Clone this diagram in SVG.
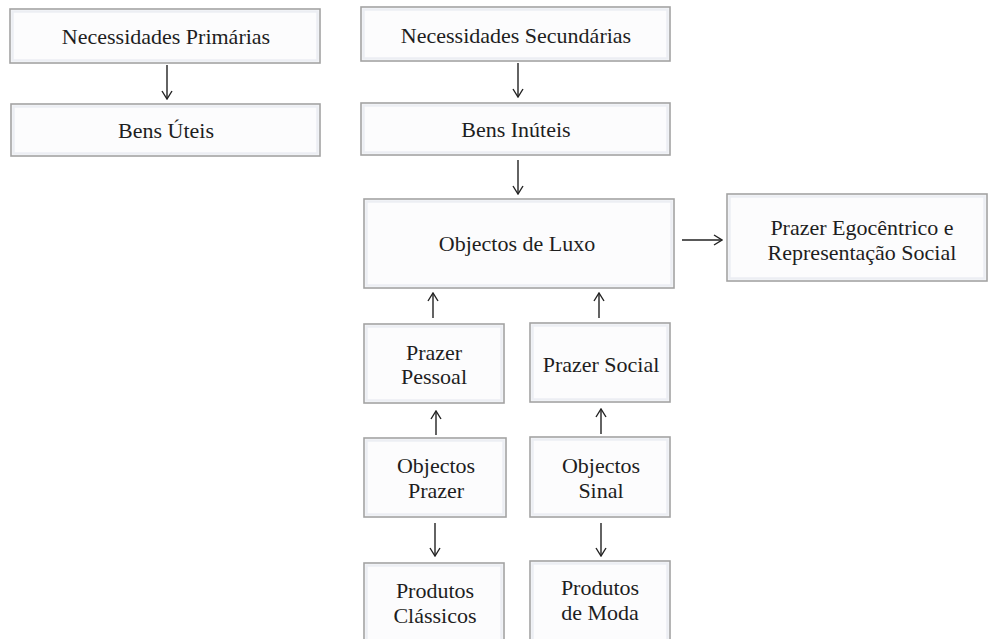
<svg xmlns="http://www.w3.org/2000/svg" width="989" height="639" viewBox="0 0 989 639">
  <style>
    .box { fill: #fcfcfd; stroke: #a3a3a3; stroke-width: 1.6; }
    .bevel { fill: none; stroke: #eceef3; stroke-width: 2.5; }
    .label { font-family: "Liberation Serif", "Times New Roman", serif; font-size: 22px; fill: #1e1e1e; text-anchor: middle; }
    .conn { stroke: #222; stroke-width: 1.4; fill: none; marker-end: url(#head); }
  </style>
  <defs>
    <marker id="head" viewBox="0 0 10 12" refX="9" refY="6" markerWidth="10" markerHeight="12" markerUnits="userSpaceOnUse" orient="auto">
      <path d="M1,1 L9,6 L1,11" fill="none" stroke="#222" stroke-width="1.4"/>
    </marker>
  </defs>

  <rect width="989" height="639" fill="#ffffff"/>

  <g id="necessidades-primarias">
    <rect class="box" x="10" y="9" width="310" height="54"/>
    <rect class="bevel" x="12.5" y="11.5" width="305" height="49"/>
    <text class="label" x="166" y="44">Necessidades Primárias</text>
  </g>

  <g id="bens-uteis">
    <rect class="box" x="11" y="104" width="309" height="52"/>
    <rect class="bevel" x="13.5" y="106.5" width="304" height="47"/>
    <text class="label" x="166" y="138">Bens Úteis</text>
  </g>

  <g id="necessidades-secundarias">
    <rect class="box" x="361" y="7" width="309" height="54"/>
    <rect class="bevel" x="363.5" y="9.5" width="304" height="49"/>
    <text class="label" x="516" y="43">Necessidades Secundárias</text>
  </g>

  <g id="bens-inuteis">
    <rect class="box" x="361" y="103" width="309" height="52"/>
    <rect class="bevel" x="363.5" y="105.5" width="304" height="47"/>
    <text class="label" x="516" y="137">Bens Inúteis</text>
  </g>

  <g id="objectos-de-luxo">
    <rect class="box" x="364" y="199" width="310" height="89"/>
    <rect class="bevel" x="366.5" y="201.5" width="305" height="84"/>
    <text class="label" x="517" y="251">Objectos de Luxo</text>
  </g>

  <g id="prazer-egocentrico">
    <rect class="box" x="727" y="194" width="260" height="87"/>
    <rect class="bevel" x="729.5" y="196.5" width="255" height="82"/>
    <text class="label" x="862" y="235">Prazer Egocêntrico e</text>
    <text class="label" x="862" y="260">Representação Social</text>
  </g>

  <g id="prazer-pessoal">
    <rect class="box" x="364" y="324" width="140" height="79"/>
    <rect class="bevel" x="366.5" y="326.5" width="135" height="74"/>
    <text class="label" x="434" y="360">Prazer</text>
    <text class="label" x="434" y="384">Pessoal</text>
  </g>

  <g id="prazer-social">
    <rect class="box" x="530" y="323" width="140" height="79"/>
    <rect class="bevel" x="532.5" y="325.5" width="135" height="74"/>
    <text class="label" x="601" y="372">Prazer Social</text>
  </g>

  <g id="objectos-prazer">
    <rect class="box" x="364" y="438" width="142" height="79"/>
    <rect class="bevel" x="366.5" y="440.5" width="137" height="74"/>
    <text class="label" x="436" y="473">Objectos</text>
    <text class="label" x="436" y="498">Prazer</text>
  </g>

  <g id="objectos-sinal">
    <rect class="box" x="530" y="437" width="140" height="80"/>
    <rect class="bevel" x="532.5" y="439.5" width="135" height="75"/>
    <text class="label" x="601" y="473">Objectos</text>
    <text class="label" x="601" y="498">Sinal</text>
  </g>

  <g id="produtos-classicos">
    <rect class="box" x="364" y="563" width="140" height="90"/>
    <rect class="bevel" x="366.5" y="565.5" width="135" height="85"/>
    <text class="label" x="435" y="598">Produtos</text>
    <text class="label" x="435" y="623">Clássicos</text>
  </g>

  <g id="produtos-de-moda">
    <rect class="box" x="530" y="561" width="140" height="92"/>
    <rect class="bevel" x="532.5" y="563.5" width="135" height="87"/>
    <text class="label" x="600" y="595">Produtos</text>
    <text class="label" x="600" y="620">de Moda</text>
  </g>

  <g id="connectors">
    <line class="conn" x1="167" y1="65" x2="167" y2="99"/>
    <line class="conn" x1="518" y1="63" x2="518" y2="97"/>
    <line class="conn" x1="518" y1="160" x2="518" y2="194"/>
    <line class="conn" x1="682" y1="240" x2="722" y2="240"/>
    <line class="conn" x1="433" y1="318" x2="433" y2="293"/>
    <line class="conn" x1="599" y1="318" x2="599" y2="293"/>
    <line class="conn" x1="436" y1="435" x2="436" y2="411"/>
    <line class="conn" x1="601" y1="434" x2="601" y2="409"/>
    <line class="conn" x1="435" y1="523" x2="435" y2="556"/>
    <line class="conn" x1="601" y1="523" x2="601" y2="556"/>
  </g>
</svg>
